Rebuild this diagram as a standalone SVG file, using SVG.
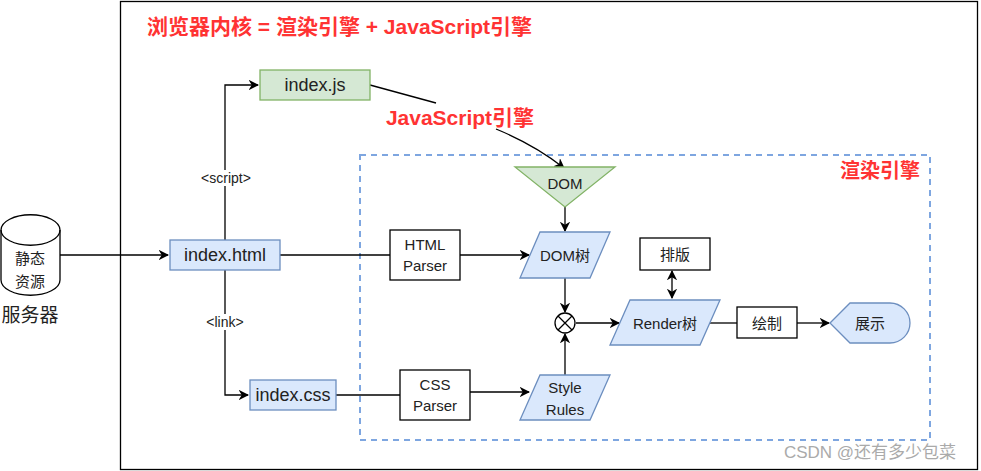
<svg xmlns="http://www.w3.org/2000/svg" width="981" height="471" viewBox="0 0 981 471">
<style>
text{font-family:"Liberation Sans","Noto Sans CJK SC",sans-serif;fill:#222;text-anchor:middle;dominant-baseline:central}
.blue{fill:#dae8fc;stroke:#6c8ebf;stroke-width:1.3}
.green{fill:#d5e8d4;stroke:#82b366;stroke-width:1.3}
.box{fill:#fff;stroke:#000;stroke-width:1.3}
.red{fill:#ff3333;font-weight:bold}
.ln{fill:none;stroke:#000;stroke-width:1.3}
.n{font-size:15px}
.b{font-size:18px}
</style>
<defs>
<marker id="a" viewBox="0 0 10 10" refX="9" refY="5" markerWidth="8" markerHeight="8" orient="auto-start-reverse"><path d="M0,0 L10,5 L0,10 L3,5 Z" fill="#000"/></marker>
</defs>
<rect x="120.5" y="1.5" width="857" height="468" fill="#fff" stroke="#000" stroke-width="1.3"/>
<text x="147" y="26" class="red" style="text-anchor:start;font-size:21px">浏览器内核 = 渲染引擎 + JavaScript引擎</text>
<rect x="360" y="155" width="570" height="285" fill="none" stroke="#7ea6e0" stroke-width="2" stroke-dasharray="6,5"/>
<text x="880" y="171" class="red" style="font-size:20px">渲染引擎</text>
<g id="connectors">
<path class="ln" d="M60,255 H168" marker-end="url(#a)"/>
<path class="ln" d="M225,240 V85 H258" marker-end="url(#a)"/>
<path class="ln" d="M225,270 V395 H248" marker-end="url(#a)"/>
<path class="ln" d="M280,255 H390"/>
<path class="ln" d="M460,255 H529" marker-end="url(#a)"/>
<path class="ln" d="M336,395 H400"/>
<path class="ln" d="M470,392 H529" marker-end="url(#a)"/>
<path class="ln" d="M565,207 V231" marker-end="url(#a)"/>
<path class="ln" d="M565,278 V312" marker-end="url(#a)"/>
<path class="ln" d="M565,375 V334" marker-end="url(#a)"/>
<path class="ln" d="M576,323 H619" marker-end="url(#a)"/>
<path class="ln" d="M672,271 V298" marker-start="url(#a)" marker-end="url(#a)"/>
<path class="ln" d="M710,323 H737"/>
<path class="ln" d="M797,323 H829" marker-end="url(#a)"/>
<path class="ln" d="M370,85 L436,103"/>
<path class="ln" d="M496,129 Q535,145 564,168" marker-end="url(#a)"/>
<rect x="196" y="170" width="60" height="16" fill="#fff"/>
<text x="226" y="178" style="font-size:14px">&lt;script&gt;</text>
<rect x="202" y="314" width="46" height="16" fill="#fff"/>
<text x="225" y="322" style="font-size:14px">&lt;link&gt;</text>
</g>
<text x="460" y="117" class="red" style="font-size:21px">JavaScript引擎</text>
<g id="server">
<path d="M1,230 A29,15 0 0 1 60,230 V280 A29,15 0 0 1 1,280 Z" fill="#fff" stroke="#000" stroke-width="1.3"/>
<path class="ln" d="M1,230 A29,15 0 0 0 60,230"/>
<text x="30" y="258" class="n">静态</text>
<text x="30" y="281" class="n">资源</text>
<text x="30" y="315" style="font-size:19px">服务器</text>
</g>
<g id="indexjs"><rect x="260" y="70" width="110" height="30" class="green"/><text x="315" y="85" class="b">index.js</text></g>
<g id="indexhtml"><rect x="170" y="240" width="110" height="30" class="blue"/><text x="225" y="255" class="b">index.html</text></g>
<g id="indexcss"><rect x="250" y="380" width="86" height="30" class="blue"/><text x="293" y="395" class="b">index.css</text></g>
<g id="htmlparser"><rect x="390" y="230" width="70" height="50" class="box"/><text x="425" y="244" class="n">HTML</text><text x="425" y="265" class="n">Parser</text></g>
<g id="cssparser"><rect x="400" y="370" width="70" height="50" class="box"/><text x="435" y="384" class="n">CSS</text><text x="435" y="405" class="n">Parser</text></g>
<g id="dom"><path d="M515,167 H615 L565,207 Z" class="green"/><text x="565" y="183" class="n">DOM</text></g>
<g id="domtree"><path d="M540,232 H610 L590,278 H520 Z" class="blue"/><text x="565" y="255" class="n">DOM树</text></g>
<g id="stylerules"><path d="M540,375 H610 L590,420 H520 Z" class="blue"/><text x="565" y="387" class="n">Style</text><text x="565" y="409" class="n">Rules</text></g>
<g id="merge"><circle cx="565" cy="323" r="10" fill="#fff" stroke="#000" stroke-width="1.3"/><path class="ln" d="M558,316 L572,330 M572,316 L558,330"/></g>
<g id="render"><path d="M630,300 H720 L700,345 H610 Z" class="blue"/><text x="665" y="323" class="n">Render树</text></g>
<g id="layout"><rect x="640" y="238" width="70" height="32" class="box"/><text x="675" y="254" class="n">排版</text></g>
<g id="paint"><rect x="737" y="307" width="60" height="31" class="box"/><text x="767" y="323" class="n">绘制</text></g>
<g id="display"><path d="M830,323 L850,303 H890 A20,20 0 0 1 890,343 H850 Z" class="blue"/><text x="870" y="323" class="n">展示</text></g>
<text x="870" y="452" style="font-size:17px;fill:#aaa">CSDN @还有多少包菜</text>
</svg>
